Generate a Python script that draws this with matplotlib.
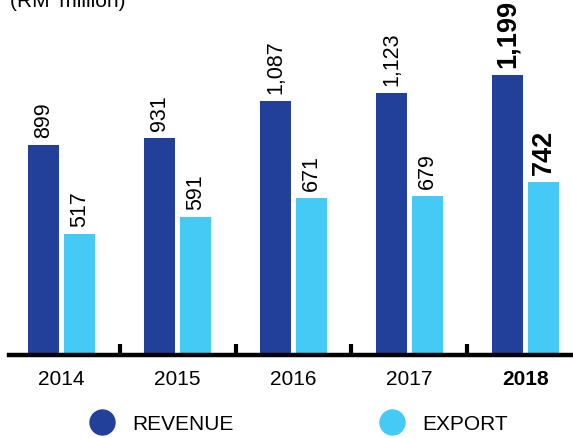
import matplotlib
matplotlib.use("Agg")
import matplotlib.pyplot as plt
from matplotlib.lines import Line2D
import numpy as np

plt.rcParams['font.family'] = ['Liberation Sans', 'DejaVu Sans']

years = ['2014', '2015', '2016', '2017', '2018']
revenue = [899, 931, 1087, 1123, 1199]
export = [517, 591, 671, 679, 742]
series_names = ['REVENUE', 'EXPORT']

c_rev = '#22409A'
c_exp = '#45C9F5'

fig = plt.figure(figsize=(5.73, 4.38), dpi=100)
ax = fig.add_axes([9 / 573, 83 / 438, 1 - 9 / 573, 1 - 83 / 438])

x = np.arange(len(years))
w = 0.267
off = 0.155
b1 = ax.bar(x - off, revenue, w, color=c_rev, zorder=1)
b2 = ax.bar(x + off, export, w, color=c_exp, zorder=1)

for bars, vals in ((b1, revenue), (b2, export)):
    for i, (r, v) in enumerate(zip(bars, vals)):
        last = i == len(vals) - 1
        ax.annotate(f"{v:,}", (r.get_x() + r.get_width() / 2, r.get_height()),
                    xytext=(0, 5), textcoords='offset points',
                    rotation=90, ha='center', va='bottom',
                    fontsize=19.5 if last else 15.5,
                    fontweight='bold' if last else 'normal')

ax.set_xlim(-0.453, 4.41)
ax.set_ylim(0, 1520)

for s in ['top', 'right', 'left']:
    ax.spines[s].set_visible(False)
ax.spines['bottom'].set_linewidth(3.2)
ax.set_yticks([])

ax.set_xticks(x)
ax.set_xticklabels(years, fontsize=15)
ax.get_xticklabels()[-1].set_fontweight('bold')
ax.tick_params(axis='x', which='major', length=0, pad=11)
ax.set_xticks(x[:-1] + 0.5, minor=True)
ax.tick_params(axis='x', which='minor', direction='in', length=8, width=3)

fig.text(10 / 573, 1 - 7 / 438, "(RM' million)", fontsize=15, va='baseline', ha='left')

handles = [Line2D([], [], marker='o', linestyle='none', markersize=18, color=c_rev),
           Line2D([], [], marker='o', linestyle='none', markersize=18, color=c_exp)]
fig.legend(handles, series_names, loc='center left', bbox_to_anchor=(92 / 573, 1 - 424 / 438),
           ncol=2, frameon=False, fontsize=15, handlelength=1.0, handletextpad=0.95,
           columnspacing=7.1, borderpad=0, borderaxespad=0)

fig.savefig('out.png', dpi=100)
